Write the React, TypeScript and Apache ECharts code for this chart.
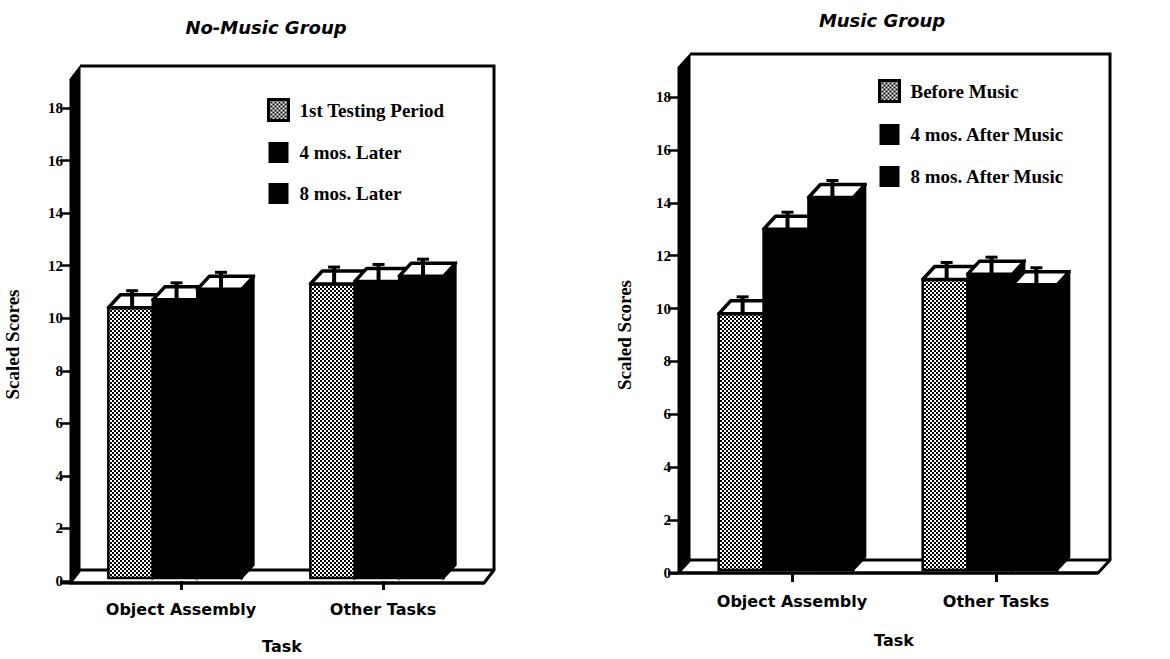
import React, { useEffect, useRef } from "react";
import * as echarts from "echarts";

const categories = ["Object Assembly", "Other Tasks"];
const noMusicNames = ["1st Testing Period", "4 mos. Later", "8 mos. Later"];
const musicNames = ["Before Music", "4 mos. After Music", "8 mos. After Music"];
const noMusicFirst = [10.4, 11.3];
const noMusicFour = [10.7, 11.4];
const noMusicEight = [11.1, 11.6];
const musicBefore = [9.8, 11.1];
const musicFour = [13.0, 11.3];
const musicEight = [14.2, 10.9];
const yTicksMax = 18;
const yTickStep = 2;

const DX = 12;
const DY = 13;
const SERIF = "Liberation Serif";
const SANS = "DejaVu Sans";

function makePattern() {
  const c = document.createElement("canvas");
  c.width = 4;
  c.height = 4;
  const ctx = c.getContext("2d")!;
  ctx.fillStyle = "#fff";
  ctx.fillRect(0, 0, 4, 4);
  ctx.fillStyle = "#000";
  ctx.fillRect(0, 0, 2, 2);
  ctx.fillRect(2, 2, 2, 2);
  return { image: c, repeat: "repeat" } as any;
}

export default function App() {
  const ref = useRef<HTMLDivElement>(null);
  useEffect(() => {
    if (!ref.current) return;
    const chart = echarts.init(ref.current, undefined, { renderer: "svg" });
    const pattern = makePattern();

    const renderItem = (params: any, api: any) => {
      const k = params.seriesIndex % 3;
      const ci = api.value(0);
      const v = api.value(1);
      const top = api.coord([ci, v]);
      const base = api.coord([ci, 0]);
      const cx = top[0];
      const yTop = top[1];
      const yb = base[1] - 3;
      const catW = api.size([1, 0])[0];
      const bw = catW * 0.22;
      const x = cx - 1.5 * bw - DX / 2 + k * bw;
      const dvx = x + bw * 0.4;
      return {
        type: "group",
        children: [
          {
            type: "polygon",
            shape: { points: [[x + bw, yTop], [x + bw + DX, yTop - DY], [x + bw + DX, yb - DY], [x + bw, yb]] },
            style: { fill: "#000", stroke: "#000", lineWidth: 2 },
          },
          {
            type: "rect",
            shape: { x, y: yTop, width: bw, height: yb - yTop },
            style: { fill: k === 0 ? pattern : "#000", stroke: "#000", lineWidth: 2.5 },
          },
          {
            type: "polygon",
            shape: { points: [[x, yTop], [x + DX, yTop - DY], [x + bw + DX, yTop - DY], [x + bw, yTop]] },
            style: { fill: "#fff", stroke: "#000", lineWidth: 3.5, lineJoin: "round" },
          },
          {
            type: "line",
            shape: { x1: dvx + DX * 0.5, y1: yTop, x2: dvx + DX * 0.5, y2: yTop - DY - 4 },
            style: { stroke: "#000", lineWidth: 4 },
          },
          {
            type: "line",
            shape: { x1: dvx + DX * 0.5 - 6, y1: yTop - DY - 4, x2: dvx + DX * 0.5 + 6, y2: yTop - DY - 4 },
            style: { stroke: "#000", lineWidth: 3 },
          },
        ],
      };
    };

    const mkSeries = (name: string, vals: number[], gi: number) => ({
      type: "custom",
      name,
      xAxisIndex: gi,
      yAxisIndex: gi,
      renderItem,
      itemStyle: { color: "#000" },
      data: vals.map((v, i) => [i, v]),
    });

    const yAxis = (gi: number, offset: number, nameGap: number) => ({
      type: "value",
      gridIndex: gi,
      min: 0,
      max: yTicksMax,
      interval: yTickStep,
      offset,
      name: "Scaled Scores",
      nameLocation: "middle",
      nameGap,
      nameTextStyle: { fontFamily: SERIF, fontWeight: "bold", fontSize: 19, color: "#000" },
      axisLine: { show: false },
      axisTick: { show: true, length: 10, lineStyle: { color: "#000", width: 2.5 } },
      axisLabel: { margin: 7, fontFamily: SERIF, fontWeight: "bold", fontSize: 15, color: "#000" },
      splitLine: { show: false },
    });

    const xAxis = (gi: number, nameGap: number) => ({
      type: "category",
      gridIndex: gi,
      data: categories,
      boundaryGap: true,
      name: "Task",
      nameLocation: "middle",
      nameGap,
      nameTextStyle: { fontFamily: SANS, fontWeight: "bold", fontSize: 16, color: "#000" },
      axisLine: { show: false },
      axisTick: { show: true, alignWithLabel: true, length: 9, lineStyle: { color: "#000", width: 3 } },
      axisLabel: { margin: 20, fontFamily: SANS, fontWeight: "bold", fontSize: 16, color: "#000" },
    });

    const legendData = (names: string[]) =>
      names.map((n, i) => ({
        name: n,
        itemStyle: i === 0 ? { color: pattern, borderColor: "#000", borderWidth: 3 } : { color: "#000" },
      }));

    const panelGraphics = (
      axX: number, gl: number, gr: number, yTop: number, y0: number
    ) => {
      const w = gl - axX;
      return [
        {
          type: "polygon",
          shape: { points: [[axX, y0], [gl, y0 - DY], [gr + w, y0 - DY], [gr, y0]] },
          style: { fill: "#fff", stroke: "#000", lineWidth: 3, lineJoin: "round" },
        },
        {
          type: "polyline",
          shape: { points: [[gl, yTop], [gr + w, yTop], [gr + w, y0 - DY]] },
          style: { fill: null, stroke: "#000", lineWidth: 3 },
        },
        {
          type: "polygon",
          shape: { points: [[axX, y0], [axX, yTop + DY], [gl, yTop], [gl, y0 - DY]] },
          style: { fill: "#000", stroke: "#000", lineWidth: 1 },
        },
        {
          type: "line",
          shape: { x1: axX - 10, y1: y0, x2: gr, y2: y0 },
          style: { stroke: "#000", lineWidth: 3 },
        },
      ];
    };

    const legendText = { fontFamily: SERIF, fontWeight: "bold", fontSize: 19, color: "#000", padding: [0, 0, 0, 6] };

    chart.setOption({
      animation: false,
      backgroundColor: "#fff",
      grid: [
        { left: 80, top: 108, width: 404, height: 475 },
        { left: 690, top: 97, width: 408, height: 476 },
      ],
      xAxis: [xAxis(0, 57), xAxis(1, 59)],
      yAxis: [yAxis(0, 10, 48), yAxis(1, 12, 44)],
      legend: [
        {
          orient: "vertical",
          left: 262,
          top: 93,
          itemWidth: 20,
          itemHeight: 21,
          itemGap: 20,
          icon: "rect",
          data: legendData(noMusicNames),
          textStyle: legendText,
          selectedMode: false,
        },
        {
          orient: "vertical",
          left: 873,
          top: 74,
          itemWidth: 20,
          itemHeight: 21,
          itemGap: 21,
          icon: "rect",
          data: legendData(musicNames),
          textStyle: legendText,
          selectedMode: false,
        },
      ],
      graphic: [
        ...panelGraphics(70, 80, 484, 66, 583),
        ...panelGraphics(678, 690, 1098, 54, 573),
        {
          type: "text",
          x: 266,
          y: 27,
          style: {
            text: "No-Music Group",
            fontFamily: SANS,
            fontWeight: "bold",
            fontStyle: "italic",
            fontSize: 18,
            fill: "#000",
            align: "center",
            verticalAlign: "middle",
          },
        },
        {
          type: "text",
          x: 882,
          y: 20,
          style: {
            text: "Music Group",
            fontFamily: SANS,
            fontWeight: "bold",
            fontStyle: "italic",
            fontSize: 18,
            fill: "#000",
            align: "center",
            verticalAlign: "middle",
          },
        },
      ],
      series: [
        mkSeries(noMusicNames[0], noMusicFirst, 0),
        mkSeries(noMusicNames[1], noMusicFour, 0),
        mkSeries(noMusicNames[2], noMusicEight, 0),
        mkSeries(musicNames[0], musicBefore, 1),
        mkSeries(musicNames[1], musicFour, 1),
        mkSeries(musicNames[2], musicEight, 1),
      ],
    });
    return () => chart.dispose();
  }, []);
  return (
    <div
      ref={ref}
      style={{ position: "fixed", left: 0, top: 0, width: 1170, height: 659, background: "#fff" }}
    />
  );
}
